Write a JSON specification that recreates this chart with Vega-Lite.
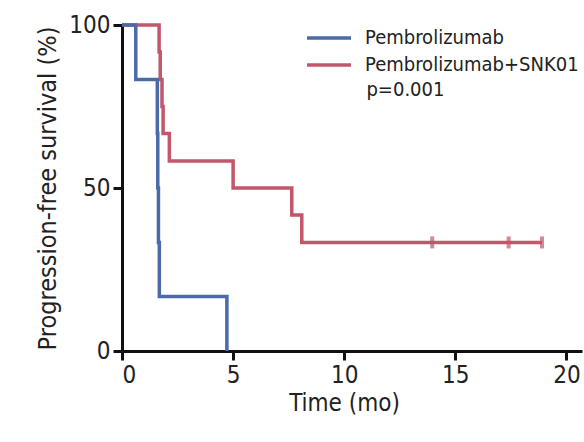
{
  "$schema": "https://vega.github.io/schema/vega-lite/v6.json",
  "width": 460,
  "height": 326,
  "autosize": {"type": "none"},
  "padding": {"left": 122, "top": 25, "right": 2, "bottom": 91},
  "background": "white",
  "config": {
    "view": {"stroke": null},
    "font": "DejaVu Sans Condensed, sans-serif",
    "axis": {
      "domainColor": "#111111",
      "domainWidth": 3,
      "tickColor": "#111111",
      "tickWidth": 3,
      "tickSize": 9,
      "grid": false,
      "labelFont": "DejaVu Sans Condensed, sans-serif",
      "titleFont": "DejaVu Sans Condensed, sans-serif",
      "labelFontSize": 24,
      "titleFontSize": 24,
      "labelColor": "#222222",
      "titleColor": "#222222",
      "titleFontWeight": "normal"
    }
  },
  "data": {
    "values": [
      {"group": "Pembrolizumab", "time": 0, "surv": 100, "censor": false},
      {"group": "Pembrolizumab", "time": 0.62, "surv": 83.3, "censor": false},
      {"group": "Pembrolizumab", "time": 1.59, "surv": 66.7, "censor": false},
      {"group": "Pembrolizumab", "time": 1.61, "surv": 50, "censor": false},
      {"group": "Pembrolizumab", "time": 1.64, "surv": 33.3, "censor": false},
      {"group": "Pembrolizumab", "time": 1.68, "surv": 16.7, "censor": false},
      {"group": "Pembrolizumab", "time": 4.72, "surv": 0, "censor": false},
      {"group": "Pembrolizumab+SNK01", "time": 0, "surv": 100, "censor": false},
      {"group": "Pembrolizumab+SNK01", "time": 1.67, "surv": 91.7, "censor": false},
      {"group": "Pembrolizumab+SNK01", "time": 1.72, "surv": 83.3, "censor": false},
      {"group": "Pembrolizumab+SNK01", "time": 1.8, "surv": 75, "censor": false},
      {"group": "Pembrolizumab+SNK01", "time": 1.85, "surv": 66.7, "censor": false},
      {"group": "Pembrolizumab+SNK01", "time": 2.13, "surv": 58.3, "censor": false},
      {"group": "Pembrolizumab+SNK01", "time": 5.0, "surv": 50, "censor": false},
      {"group": "Pembrolizumab+SNK01", "time": 7.64, "surv": 41.7, "censor": false},
      {"group": "Pembrolizumab+SNK01", "time": 8.09, "surv": 33.3, "censor": false},
      {"group": "Pembrolizumab+SNK01", "time": 13.96, "surv": 33.3, "censor": true},
      {"group": "Pembrolizumab+SNK01", "time": 17.4, "surv": 33.3, "censor": true},
      {"group": "Pembrolizumab+SNK01", "time": 18.9, "surv": 33.3, "censor": true}
    ]
  },
  "encoding": {
    "x": {
      "field": "time",
      "type": "quantitative",
      "scale": {"domain": [0, 20.7], "nice": false},
      "axis": {"values": [0, 5, 10, 15, 20], "title": "Time (mo)", "titleX": 222, "titlePadding": 4, "labelPadding": 3}
    },
    "y": {
      "field": "surv",
      "type": "quantitative",
      "scale": {"domain": [0, 100], "nice": false},
      "axis": {"values": [0, 50, 100], "title": "Progression-free survival (%)", "titleFontSize": 25, "titlePadding": 8, "labelPadding": 3}
    },
    "color": {
      "field": "group",
      "type": "nominal",
      "scale": {"domain": ["Pembrolizumab", "Pembrolizumab+SNK01"], "range": ["#4b6aa6", "#c2566a"]},
      "legend": {
        "title": null,
        "orient": "none",
        "legendX": 194,
        "legendY": 0,
        "symbolType": "M-2,0H2",
        "symbolSize": 484,
        "symbolStrokeWidth": 3.5,
        "symbolOpacity": 1,
        "labelFontSize": 20,
        "labelLimit": 0,
        "labelColor": "#222222",
        "labelOffset": 23,
        "rowPadding": 4,
        "labelFont": "DejaVu Sans Condensed, sans-serif"
      }
    }
  },
  "layer": [
    {
      "transform": [{"filter": "datum.group === 'Pembrolizumab+SNK01'"}],
      "mark": {"type": "line", "interpolate": "step-after", "strokeWidth": 3.5}
    },
    {
      "transform": [{"filter": "datum.group === 'Pembrolizumab'"}],
      "mark": {"type": "line", "interpolate": "step-after", "strokeWidth": 3.5}
    },
    {
      "transform": [{"filter": "datum.censor"}],
      "mark": {"type": "tick", "orient": "vertical", "size": 12, "thickness": 4}
    },
    {
      "data": {"values": [{"label": "p=0.001", "time": 11.0, "surv": 80.0}]},
      "mark": {"type": "text", "align": "left", "baseline": "middle", "fontSize": 20, "color": "#222222", "font": "DejaVu Sans Condensed, sans-serif"},
      "encoding": {"text": {"field": "label"}, "color": {"value": "#222222"}}
    }
  ]
}
